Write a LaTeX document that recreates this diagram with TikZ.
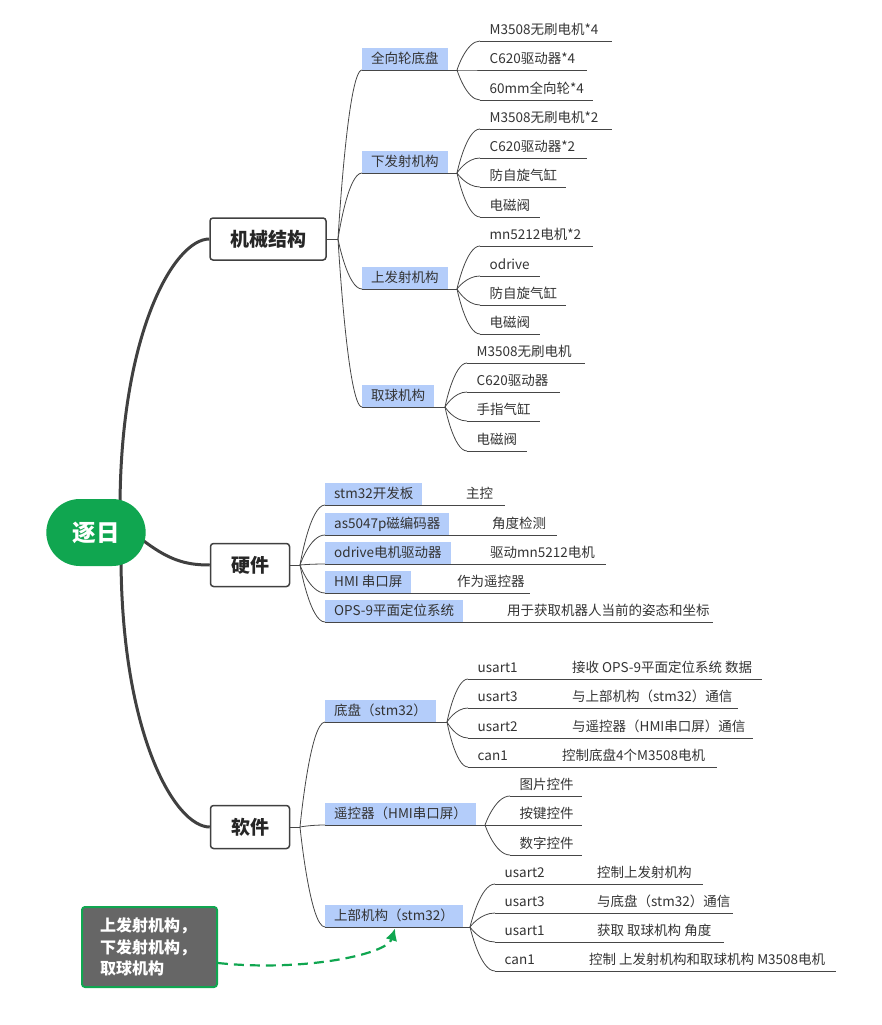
\documentclass[tikz,border=0pt]{standalone}
\usepackage{fontspec}
\setmainfont{Noto Sans CJK SC}
\usetikzlibrary{calc,arrows.meta,shapes.misc,backgrounds}
\definecolor{gr}{RGB}{16,166,80}
\definecolor{dk}{RGB}{64,64,64}
\definecolor{ln}{RGB}{70,70,70}
\definecolor{lb}{RGB}{180,205,250}
\definecolor{tx}{RGB}{51,51,51}
\definecolor{nt}{RGB}{102,102,102}
\tikzset{
 f13/.style={font=\fontsize{13.5}{15}\selectfont},
 lab/.style={f13, fill=lb, text=tx, inner xsep=9pt, inner ysep=4pt, text height=12pt, text depth=2pt, anchor=south west},
 leaf/.style={f13, text=tx, inner xsep=9.5pt, inner ysep=4pt, text height=12pt, text depth=2pt, anchor=south west},
 rt/.style={leaf, inner xsep=0pt},
 ul/.style={draw=ln, line width=0.8pt},
 br/.style={draw=ln, line width=0.8pt},
 mainbox/.style={draw=dk, line width=1.5pt, rounded corners=3pt, fill=white, text=black!85, font=\fontsize{19}{19}\selectfont\bfseries, inner sep=0pt},
 rootnode/.style={rounded rectangle, fill=gr, text=white, font=\fontsize{23.5}{23.5}\selectfont\bfseries, minimum width=106pt, minimum height=67pt},
 trunk/.style={draw=dk, line width=3pt},
 notebox/.style={fill=nt, draw=gr, line width=2pt, rounded corners=3pt, text=white, font=\fontsize{16}{21.5}\selectfont\bfseries, align=left, text width=99pt, minimum height=80pt, inner xsep=18pt},
 linkarrow/.style={draw=gr, line width=2.2pt, dash pattern=on 10pt off 6pt, -{Latex[length=12pt,width=12pt]}}
}
\newcommand\fanline[2]{%
  \coordinate (fanc) at ($(#1)!0.4!(#2)$);
  \draw[br] (#1) .. controls (#1) and (fanc |- #2) .. (#2);}
\begin{document}
\begin{tikzpicture}[x=1pt,y=-1pt]
\useasboundingbox (0,0) rectangle (882,1025);
% root and main branches
\node[rootnode] (root) at (96,532.5) {逐日};
\node[mainbox, minimum width=116pt, minimum height=42pt] (mech) at (268,239) {机械结构};
\node[mainbox, minimum width=79pt, minimum height=43pt] (hw) at (250,565) {硬件};
\node[mainbox, minimum width=79pt, minimum height=43pt] (sw) at (250,827) {软件};
\coordinate (r1) at (120,505);
\coordinate (r2) at (140,538);
\coordinate (r3) at (121,560);
\begin{scope}[on background layer]
\draw[trunk] (r1) .. controls (121,330) and (175,239) .. (mech.west);
\draw[trunk] (r2) .. controls (168,560) and (185,565) .. (hw.west);
\draw[trunk] (r3) .. controls (122,735) and (175,827) .. (sw.west);
\end{scope}

% ---------- mechanical ----------
\coordinate (mech-o) at (338,239);
\node[lab] (qx) at (362,70) {全向轮底盘};
\node[lab] (xf) at (362,173) {下发射机构};
\node[lab] (sf) at (362,289) {上发射机构};
\node[lab] (qq) at (362,407) {取球机构};
\coordinate (qx-e) at (457,70);
\coordinate (xf-e) at (457,173);
\coordinate (sf-e) at (457,289);
\coordinate (qq-e) at (445,407);
\draw[br] (mech.east) -- (mech-o);
\foreach \n in {qx,xf,sf,qq}{
  \fanline{mech-o}{\n.south west}
  \draw[ul] (\n.south west) -- (\n-e);
}
\foreach \nm/\p/\sx/\y/\ex/\t in {
 a1/qx/480/41/612/{M3508无刷电机*4},
 a2/qx/480/70/587/{C620驱动器*4},
 a3/qx/480/100/593/{60mm全向轮*4},
 b1/xf/480/129/612/{M3508无刷电机*2},
 b2/xf/480/158/587/{C620驱动器*2},
 b3/xf/480/187/566/{防自旋气缸},
 b4/xf/480/217/540/{电磁阀},
 c1/sf/480/246/593/{mn5212电机*2},
 c2/sf/480/276/540/{odrive},
 c3/sf/480/305/566/{防自旋气缸},
 c4/sf/480/334/540/{电磁阀},
 d1/qq/467/363/585/{M3508无刷电机},
 d2/qq/467/392/560/{C620驱动器},
 d3/qq/467/421/540/{手指气缸},
 d4/qq/467/451/527/{电磁阀}}{
  \node[leaf] (\nm) at (\sx,\y) {\t};
  \coordinate (\nm-e) at (\ex,\y);
  \draw[ul] (\nm.south west) -- (\nm-e);
  \fanline{\p-e}{\nm.south west}
}

% ---------- hardware ----------
\coordinate (hw-o) at (300,565);
\draw[br] (hw.east) -- (hw-o);
\foreach \nm/\y/\a/\rx/\b/\ex in {
 h1/505/{stm32开发板}/466/{主控}/505,
 h2/535/{as5047p磁编码器}/492/{角度检测}/557,
 h3/564/{odrive电机驱动器}/490/{驱动mn5212电机}/606,
 h4/593/{HMI 串口屏}/457/{作为遥控器}/530,
 h5/622/{OPS-9平面定位系统}/507/{用于获取机器人当前的姿态和坐标}/713}{
  \node[lab] (\nm) at (325,\y) {\a};
  \node[rt] (\nm t) at (\rx,\y) {\b};
  \coordinate (\nm-e) at (\ex,\y);
  \fanline{hw-o}{\nm.south west}
  \draw[ul] (\nm.south west) -- (\nm-e);
}

% ---------- software ----------
\coordinate (sw-o) at (300,827);
\draw[br] (sw.east) -- (sw-o);
\node[lab] (dp) at (325,722) {底盘（stm32）};
\node[lab] (yk) at (325,825) {遥控器（HMI串口屏）};
\node[lab] (up) at (325,927) {上部机构（stm32）};
\coordinate (dp-e) at (447,722);
\coordinate (yk-e) at (485,825);
\coordinate (up-e) at (470,927);
\foreach \n in {dp,yk,up}{
  \fanline{sw-o}{\n.south west}
  \draw[ul] (\n.south west) -- (\n-e);
}
\foreach \nm/\p/\sx/\y/\ex/\t in {
 f1/yk/510/796/582/{图片控件},
 f2/yk/510/825/582/{按键控件},
 f3/yk/510/855/582/{数字控件}}{
  \node[leaf] (\nm) at (\sx,\y) {\t};
  \coordinate (\nm-e) at (\ex,\y);
  \draw[ul] (\nm.south west) -- (\nm-e);
  \fanline{\p-e}{\nm.south west}
}
\foreach \nm/\p/\sx/\y/\a/\rx/\b/\ex in {
 e1/dp/468/679/{usart1}/572/{接收 OPS-9平面定位系统 数据}/762,
 e2/dp/468/708/{usart3}/572/{与上部机构（stm32）通信}/738,
 e3/dp/468/738/{usart2}/572/{与遥控器（HMI串口屏）通信}/753,
 e4/dp/468/767/{can1}/562/{控制底盘4个M3508电机}/717,
 g1/up/495/884/{usart2}/597/{控制上发射机构}/703,
 g2/up/495/913/{usart3}/597/{与底盘（stm32）通信}/733,
 g3/up/495/942/{usart1}/597/{获取 取球机构 角度}/724,
 g4/up/495/971/{can1}/589/{控制 上发射机构和取球机构 M3508电机}/836}{
  \node[leaf] (\nm) at (\sx,\y) {\a};
  \node[rt] (\nm t) at (\rx,\y) {\b};
  \coordinate (\nm-e) at (\ex,\y);
  \draw[ul] (\nm.south west) -- (\nm-e);
  \fanline{\p-e}{\nm.south west}
}

% ---------- note ----------
\node[notebox] (note) at (149.5,947) {上发射机构，\\下发射机构，\\取球机构};
\coordinate (tip) at ([xshift=1pt,yshift=-1.5pt]up.south);
\draw[linkarrow] ([yshift=-16pt]note.east) .. controls +(85,9) and +(-8,26) .. (tip);
\end{tikzpicture}
\end{document}
